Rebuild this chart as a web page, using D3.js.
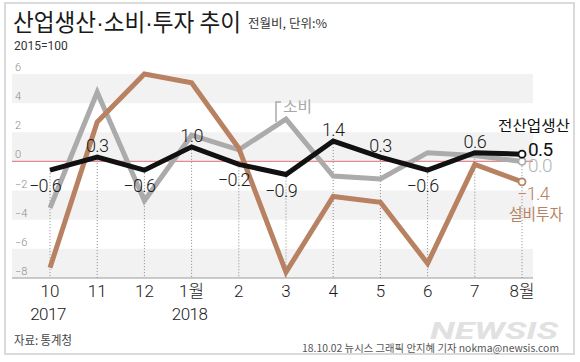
<!DOCTYPE html>
<html>
<head>
<meta charset="utf-8">
<script src="https://cdn.jsdelivr.net/npm/d3@7"></script>
<style>
  body { margin: 0; background: #fff; }
  svg { display: block; font-family: Roboto, "Liberation Sans", "Noto Sans CJK KR", sans-serif; font-weight: 300; }
  .kr { font-family: "Noto Sans CJK KR", sans-serif; font-weight: 400; }
  .dot { font-family: "Liberation Sans", sans-serif; }
</style>
</head>
<body>
<div class="graphContainer"></div>
<script>
// data
const months = ["10", "11", "12", "1월", "2", "3", "4", "5", "6", "7", "8월"];
const production = [-0.6, 0.3, -0.6, 1.0, -0.2, -0.9, 1.4, 0.3, -0.6, 0.6, 0.5];
const consumption = [-3.2, 4.75, -2.7, 1.8, 0.8, 2.9, -1.0, -1.2, 0.6, 0.4, 0.0];
const investment = [-7.3, 2.7, 6.0, 5.4, 0.9, -7.6, -2.4, -2.8, -7.0, -0.2, -1.4];
const yTicks = [6, 4, 2, 0, -2, -4, -6, -8];
const years = [{ m: "10", label: "2017" }, { m: "1월", label: "2018" }];
const titleParts = ["산업생산", "·", "소비", "·", "투자 추이"];

const w = 580, h = 362;
const left = 12, right = 533;

const fmt = v => (v < 0 ? "\u2212" : "") + Math.abs(v).toFixed(1);

const svg = d3.select(".graphContainer").append("svg")
  .attr("width", w).attr("height", h);

// frame
svg.append("rect")
  .attr("x", 5).attr("y", 3).attr("width", 569).attr("height", 351)
  .attr("fill", "none").attr("stroke", "#dadada").attr("stroke-width", 2);

const x = d3.scalePoint().domain(months).range([50, 522]);
const y = d3.scaleLinear().domain([-8, 6]).range([278, 74]);

// grey bands
svg.append("g").selectAll("rect")
  .data([4, 0, -4, -8])
  .enter().append("rect")
  .attr("x", left).attr("width", right - left)
  .attr("y", d => y(d + 2)).attr("height", d => y(d) - y(d + 2))
  .attr("fill", "#f2f2f2");

// y labels
svg.append("g").selectAll("text")
  .data(yTicks)
  .enter().append("text")
  .attr("x", 15).attr("y", d => y(d) - 3)
  .attr("font-size", 11).attr("fill", "#8a8a8a")
  .text(d => d < 0 ? "\u2212" + Math.abs(d) : d);

// zero line + base line
svg.append("line")
  .attr("x1", left).attr("x2", right).attr("y1", y(0)).attr("y2", y(0))
  .attr("stroke", "#e28a90").attr("stroke-width", 1.2);
svg.append("line")
  .attr("x1", left).attr("x2", right).attr("y1", y(-8)).attr("y2", y(-8))
  .attr("stroke", "#999").attr("stroke-width", 1.2);

// dotted guides
svg.append("g").selectAll("line")
  .data(months)
  .enter().append("line")
  .attr("x1", d => x(d)).attr("x2", d => x(d))
  .attr("y1", (d, i) => y(production[i])).attr("y2", y(-8))
  .attr("stroke", "#888").attr("stroke-width", 1).attr("stroke-dasharray", "1,2");

const line = d3.line().x((d, i) => x(months[i])).y(d => y(d));

svg.append("path").datum(consumption).attr("d", line)
  .attr("fill", "none").attr("stroke", "#ababab").attr("stroke-width", 5);
svg.append("path").datum(investment).attr("d", line)
  .attr("fill", "none").attr("stroke", "#b88262").attr("stroke-width", 5);
svg.append("path").datum(production).attr("d", line)
  .attr("fill", "none").attr("stroke", "#111").attr("stroke-width", 5);

// end markers
const last = months[months.length - 1];
[[consumption, "#ababab"], [investment, "#b88262"], [production, "#111"]].forEach(s => {
  svg.append("circle")
    .attr("cx", x(last)).attr("cy", y(s[0][s[0].length - 1])).attr("r", 3.5)
    .attr("fill", "#fff").attr("stroke", s[1]).attr("stroke-width", 1.8);
});

// value labels on production line
svg.append("g").selectAll("text")
  .data(production.slice(0, -1))
  .enter().append("text")
  .attr("x", (d, i) => x(months[i]) + (d < 0 ? -5 : 0))
  .attr("y", d => y(d) + (d < 0 ? 22 : -5))
  .attr("text-anchor", "middle").attr("font-size", 18).attr("fill", "#1a1a1a")
  .attr("letter-spacing", -0.6)
  .text(d => fmt(d));

// end labels
const ex = x(last);
svg.append("text").attr("x", ex + 6).attr("y", y(production[10]) + 2)
  .attr("font-size", 19).attr("font-weight", 400).attr("fill", "#111")
  .attr("letter-spacing", -0.6).text(fmt(production[10]));
svg.append("text").attr("x", ex + 6).attr("y", y(consumption[10]) + 11)
  .attr("font-size", 19).attr("fill", "#b3b3b3")
  .attr("letter-spacing", -0.6).text(fmt(consumption[10]));
svg.append("text").attr("x", ex - 5).attr("y", y(investment[10]) + 18)
  .attr("font-size", 18).attr("fill", "#b88262")
  .attr("letter-spacing", -0.6).text(fmt(investment[10]));
svg.append("text").attr("class", "kr").attr("x", 536).attr("y", 220)
  .attr("text-anchor", "middle").attr("font-size", 16).attr("fill", "#b88262")
  .attr("textLength", 54).attr("lengthAdjust", "spacingAndGlyphs").text("설비투자");
svg.append("text").attr("class", "kr").attr("x", 498).attr("y", 131)
  .attr("font-size", 15).attr("font-weight", 500).attr("fill", "#111")
  .attr("textLength", 72).attr("lengthAdjust", "spacingAndGlyphs").text("전산업생산");

// 소비 label with bracket
svg.append("path").attr("d", "M281,102H276V122")
  .attr("fill", "none").attr("stroke", "#ababab").attr("stroke-width", 1.5);
svg.append("text").attr("class", "kr").attr("x", 283).attr("y", 112)
  .attr("font-size", 15).attr("fill", "#a8a8a8")
  .attr("textLength", 29).attr("lengthAdjust", "spacingAndGlyphs").text("소비");

// x labels
svg.append("g").selectAll("text")
  .data(months)
  .enter().append("text")
  .attr("x", d => x(d)).attr("y", 297)
  .attr("text-anchor", "middle").attr("font-size", 17).attr("fill", "#1a1a1a")
  .text(d => d);
svg.append("g").selectAll("text")
  .data(years)
  .enter().append("text")
  .attr("x", d => x(d.m) - 2).attr("y", 320)
  .attr("text-anchor", "middle").attr("font-size", 17).attr("fill", "#1a1a1a")
  .attr("letter-spacing", -0.5)
  .text(d => d.label);

// titles
const title = svg.append("text").attr("class", "kr").attr("x", 13).attr("y", 31)
  .attr("font-size", 24).attr("font-weight", 500).attr("fill", "#1a1a1a")
  .attr("textLength", 228).attr("lengthAdjust", "spacingAndGlyphs");
titleParts.forEach(t => {
  title.append("tspan").attr("class", t === "·" ? "dot" : null).text(t);
});
svg.append("text").attr("class", "kr").attr("x", 248).attr("y", 28)
  .attr("font-size", 12).attr("fill", "#333")
  .attr("textLength", 79).attr("lengthAdjust", "spacingAndGlyphs")
  .text("전월비, 단위:%");
svg.append("text").attr("x", 14).attr("y", 50)
  .attr("font-size", 12).attr("font-weight", 400).attr("fill", "#333").text("2015=100");

// footer
svg.append("text").attr("class", "kr").attr("x", 14).attr("y", 345)
  .attr("font-size", 12).attr("fill", "#444")
  .attr("textLength", 58).attr("lengthAdjust", "spacingAndGlyphs").text("자료: 통계청");
svg.append("text").attr("x", 430).attr("y", 339)
  .attr("font-size", 24).attr("font-style", "italic").attr("font-weight", "bold")
  .attr("fill", "#dcdcdc").attr("opacity", 0.85)
  .attr("textLength", 128).attr("lengthAdjust", "spacingAndGlyphs").text("NEWSIS");
svg.append("text").attr("class", "kr").attr("x", 302).attr("y", 352)
  .attr("font-size", 10).attr("fill", "#555")
  .attr("textLength", 257).attr("lengthAdjust", "spacingAndGlyphs")
  .text("18.10.02 뉴시스 그래픽 안지혜 기자 nokma@newsis.com");
</script>
</body>
</html>
